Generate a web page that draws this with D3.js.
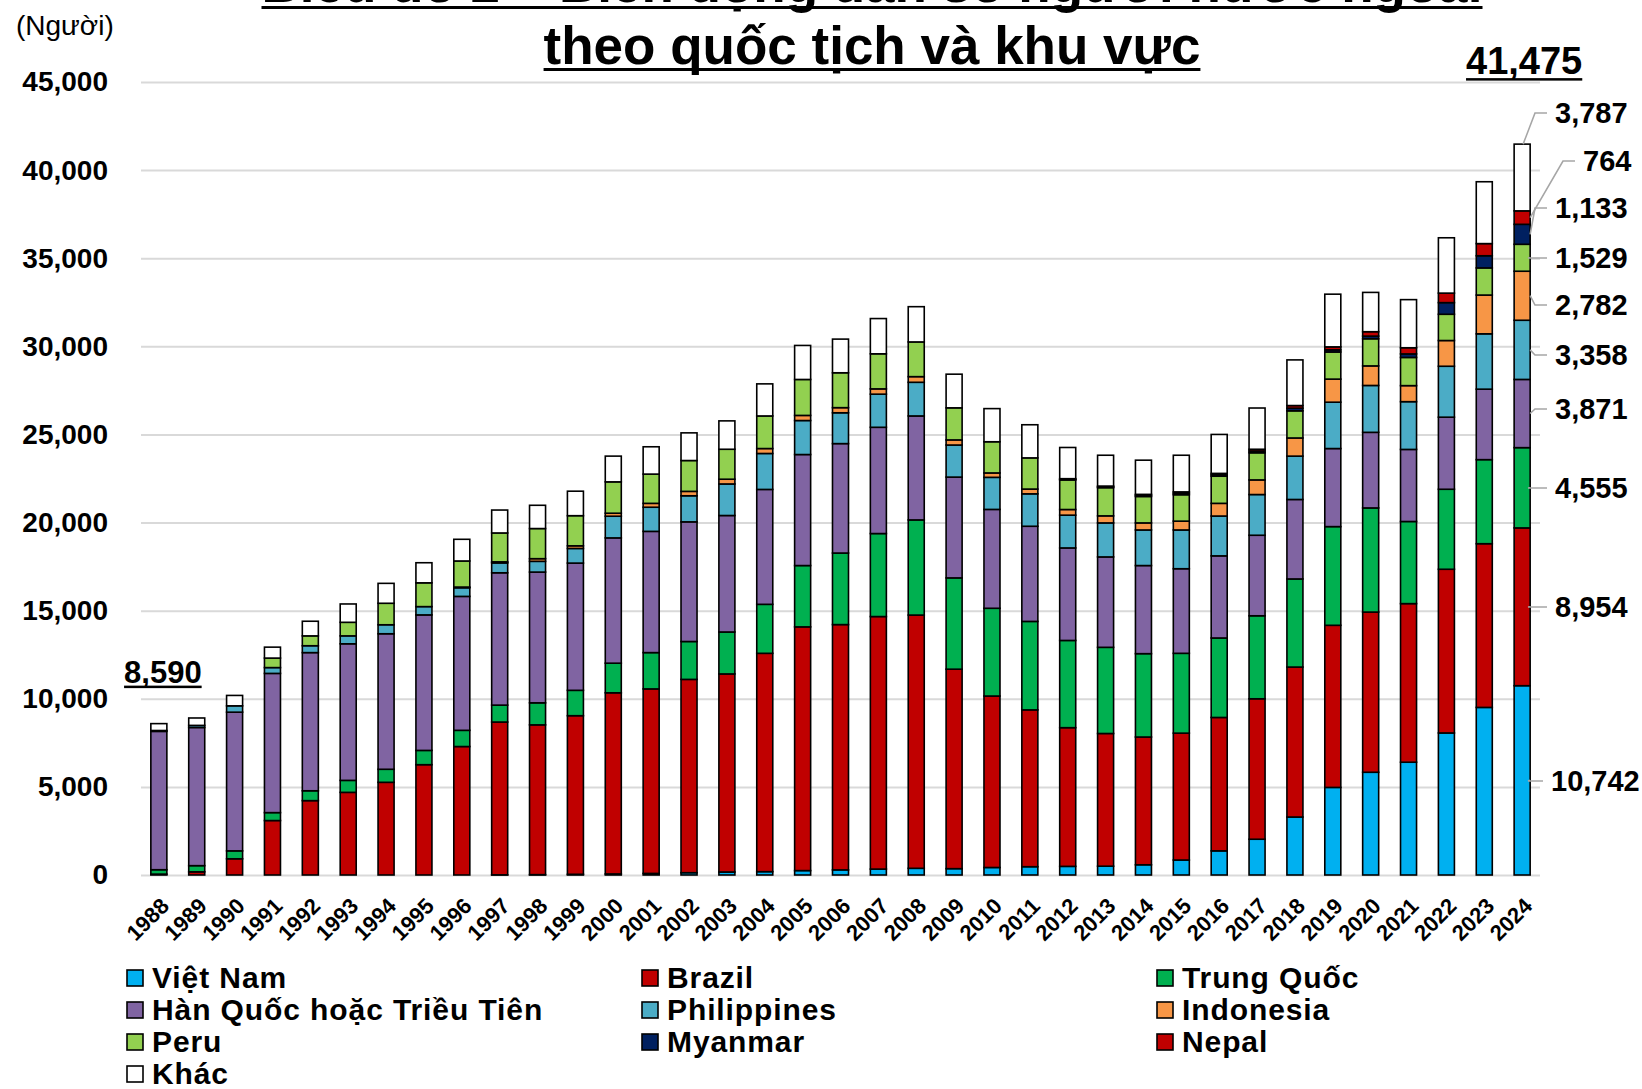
<!DOCTYPE html>
<html>
<head>
<meta charset="utf-8">
<style>
  body { margin: 0; background: #fff; }
  svg { display: block; font-family: "Liberation Sans", Arial, sans-serif; }
  .y-axis .tick line { stroke: #d9d9d9; stroke-width: 2; }
  .y-axis .domain, .x-axis .domain { display: none; }
  .y-axis .tick text { font-size: 28px; font-weight: bold; fill: #000; font-family: "Liberation Sans", Arial, sans-serif; }
  .x-axis .tick text { font-size: 22px; font-weight: bold; fill: #000; font-family: "Liberation Sans", Arial, sans-serif; }
  .legend text { font-size: 30px; font-weight: bold; letter-spacing: 0.9px; }
  .val-label { font-size: 29px; font-weight: bold; }
</style>
</head>
<body>
<svg width="1642" height="1089"></svg>
<script src="https://cdn.jsdelivr.net/npm/d3@7"></script>
<script>
// years on the x axis
const years = [1988, 1989, 1990, 1991, 1992, 1993, 1994, 1995, 1996, 1997, 1998, 1999,
  2000, 2001, 2002, 2003, 2004, 2005, 2006, 2007, 2008, 2009, 2010, 2011, 2012,
  2013, 2014, 2015, 2016, 2017, 2018, 2019, 2020, 2021, 2022, 2023, 2024];

// series, bottom to top (people)
const vietNam = [0, 0, 0, 0, 0, 0, 0, 0, 0, 10, 20, 40, 60, 90, 130, 170, 190, 250, 290, 336, 380, 360,
  426, 470, 490, 500, 580, 850, 1370, 2030, 3290, 4970, 5830, 6400, 8060, 9510, 10742];
const brazil = [50, 180, 920, 3090, 4220, 4690, 5260, 6260, 7290, 8670, 8500, 9000, 10280, 10470, 10970,
  11240, 12390, 13830, 13920, 14330, 14370, 11320, 9730, 8900, 7870, 7530, 7250, 7200, 7570, 7970,
  8510, 9200, 9090, 9000, 9290, 9290, 8954];
const trungQuoc = [250, 350, 450, 450, 560, 680, 740, 810, 920, 960, 1250, 1440, 1680, 2060, 2150, 2380,
  2780, 3480, 4060, 4710, 5400, 5180, 4980, 5020, 4950, 4890, 4730, 4530, 4510, 4710, 5000, 5600,
  5910, 4660, 4540, 4770, 4555];
const hanQuoc = [7850, 7840, 7870, 7900, 7840, 7750, 7690, 7690, 7600, 7510, 7420, 7220, 7110, 6880, 6790,
  6610, 6520, 6300, 6210, 6030, 5900, 5720, 5610, 5400, 5250, 5130, 5000, 4800, 4660, 4570, 4510,
  4430, 4290, 4090, 4090, 4000, 3871];
const philippines = [50, 120, 360, 330, 390, 450, 510, 470, 490, 560, 610, 830, 1230, 1370, 1480, 1790,
  2040, 1930, 1750, 1880, 1910, 1820, 1820, 1840, 1860, 1930, 2020, 2200, 2260, 2310, 2460, 2630,
  2660, 2710, 2890, 3140, 3358];
const indonesia = [0, 0, 0, 0, 0, 0, 0, 0, 40, 60, 150, 150, 170, 220, 250, 270, 280, 290, 290, 300, 320,
  290, 250, 270, 320, 400, 400, 500, 720, 830, 1030, 1310, 1110, 910, 1460, 2200, 2782];
const peru = [0, 0, 0, 540, 560, 770, 1220, 1350, 1480, 1640, 1710, 1710, 1780, 1660, 1750, 1700, 1850,
  2040, 1980, 1990, 1970, 1820, 1770, 1770, 1680, 1600, 1500, 1500, 1540, 1540, 1540, 1540, 1540,
  1600, 1490, 1540, 1529];
const myanmar = [0, 0, 0, 0, 0, 0, 0, 0, 0, 0, 0, 0, 0, 0, 0, 0, 0, 0, 0, 0, 0, 0, 0, 0,
  30, 40, 60, 80, 80, 100, 150, 120, 150, 200, 660, 690, 1133];
const nepal = [0, 0, 0, 0, 0, 0, 0, 0, 0, 0, 0, 0, 0, 0, 0, 0, 0, 0, 0, 0, 0, 0, 0, 0,
  40, 50, 60, 80, 80, 100, 150, 170, 250, 350, 540, 690, 764];
const khac = [390, 420, 590, 620, 830, 1040, 1130, 1140, 1230, 1300, 1320, 1390, 1460, 1550, 1570, 1610,
  1820, 1930, 1910, 2000, 2000, 1910, 1880, 1880, 1770, 1750, 1940, 2080, 2210, 2340, 2590, 2990,
  2230, 2730, 3140, 3510, 3787];

const keys = ["vn", "br", "cn", "kr", "ph", "id", "pe", "mm", "np", "kh"];
const names = ["Việt Nam", "Brazil", "Trung Quốc", "Hàn Quốc hoặc Triều Tiên", "Philippines",
  "Indonesia", "Peru", "Myanmar", "Nepal", "Khác"];
const colors = ["#00b0f0", "#c00000", "#00b050", "#8064a2", "#4bacc6", "#f79646", "#92d050",
  "#002060", "#c00000", "#ffffff"];
const seriesValues = [vietNam, brazil, trungQuoc, hanQuoc, philippines, indonesia, peru, myanmar, nepal, khac];

const yTicks = [0, 5000, 10000, 15000, 20000, 25000, 30000, 35000, 40000, 45000];

const svg = d3.select("svg");
const fmt = d3.format(",");

const table = years.map((yr, i) => {
  const row = { year: yr };
  keys.forEach((k, j) => { row[k] = seriesValues[j][i]; });
  return row;
});

const color = d3.scaleOrdinal().domain(keys).range(colors);

const plotLeft = 141, plotRight = 1540, plotTop = 82, plotBottom = 875;

const x = d3.scaleBand()
  .domain(years)
  .range([plotLeft, plotRight])
  .paddingInner(0.577)
  .paddingOuter(0.26);

const y = d3.scaleLinear()
  .domain([0, 45000])
  .range([plotBottom, plotTop]);

// y axis with gridlines
svg.append("g")
  .attr("class", "y-axis")
  .attr("transform", `translate(${plotLeft},0)`)
  .call(d3.axisLeft(y)
    .tickValues(yTicks)
    .tickSize(-(plotRight - plotLeft))
    .tickPadding(33)
    .tickFormat(fmt));

// stacked bars
const series = d3.stack().keys(keys)(table);

svg.append("g")
  .selectAll("g")
  .data(series)
  .join("g")
  .attr("fill", d => color(d.key))
  .selectAll("rect")
  .data(d => d.filter(v => v[1] - v[0] > 0))
  .join("rect")
  .attr("x", d => x(d.data.year))
  .attr("width", x.bandwidth())
  .attr("y", d => y(d[1]))
  .attr("height", d => y(d[0]) - y(d[1]))
  .attr("stroke", "#000")
  .attr("stroke-width", 1.6);

// x axis
svg.append("g")
  .attr("class", "x-axis")
  .attr("transform", `translate(0,${plotBottom})`)
  .call(d3.axisBottom(x).tickSize(0))
  .selectAll("text")
  .attr("x", 0)
  .attr("y", 0)
  .attr("dy", "0.35em")
  .attr("transform", "translate(6,27) rotate(-45)")
  .style("text-anchor", "end");

// underlined helper
function underline(sel, thick, gap) {
  const b = sel.node().getBBox();
  const base = +sel.attr("y");
  svg.append("rect")
    .attr("x", b.x)
    .attr("y", base + gap)
    .attr("width", b.width)
    .attr("height", thick)
    .attr("fill", "#000");
}

// title (first line runs off the top edge, as in the source)
const t1 = svg.append("text")
  .attr("x", 872).attr("y", 2)
  .attr("text-anchor", "middle")
  .attr("font-size", 53).attr("font-weight", "bold")
  .text("Biểu đồ 2 – Biến động dân số người nước ngoài");
underline(t1, 3, 4);

const t2 = svg.append("text")
  .attr("x", 872).attr("y", 64)
  .attr("text-anchor", "middle")
  .attr("font-size", 53).attr("font-weight", "bold")
  .text("theo quốc tịch và khu vực");
underline(t2, 3, 4);

svg.append("text")
  .attr("x", 16).attr("y", 35)
  .attr("font-size", 28)
  .text("(Người)");

// totals for first and last year
const total = i => d3.sum(seriesValues, s => s[i]);
const first = 0, last = years.length - 1;

const tFirst = svg.append("text")
  .attr("x", x(years[first]) + x.bandwidth() / 2 + 4)
  .attr("y", y(total(first)) - 41)
  .attr("text-anchor", "middle")
  .attr("font-size", 31).attr("font-weight", "bold")
  .text(fmt(total(first)));
underline(tFirst, 2.5, 3);

const tLast = svg.append("text")
  .attr("x", x(years[last]) + x.bandwidth() / 2 + 2)
  .attr("y", y(total(last)) - 70)
  .attr("text-anchor", "middle")
  .attr("font-size", 38).attr("font-weight", "bold")
  .text(fmt(total(last)));
underline(tLast, 2.5, 4);

// value labels for the last year
const labelLayout = [
  { key: "kh", ly: 113, ex: 1535, tx: 1555, from: "top" },
  { key: "np", ly: 161, ex: 1563, tx: 1583 },
  { key: "mm", ly: 208, ex: 1535, tx: 1555 },
  { key: "pe", ly: 258, ex: 1528, tx: 1555 },
  { key: "id", ly: 305, ex: 1535, tx: 1555 },
  { key: "ph", ly: 355, ex: 1535, tx: 1555 },
  { key: "kr", ly: 409, ex: 1535, tx: 1555 },
  { key: "cn", ly: 488, ex: 1528, tx: 1555 },
  { key: "br", ly: 607, ex: 1528, tx: 1555 },
  { key: "vn", ly: 781, ex: 1528, tx: 1551 }
];

const lastX = x(years[last]);
const labels = svg.append("g");
labelLayout.forEach(l => {
  const s = series.find(d => d.key === l.key)[last];
  let sx = lastX + x.bandwidth(), sy = y((s[0] + s[1]) / 2);
  if (l.from === "top") { sx = lastX + x.bandwidth() / 2 + 1; sy = y(s[1]); }
  labels.append("polyline")
    .attr("points", [[sx, sy], [l.ex, l.ly], [l.tx - 8, l.ly]].join(" "))
    .attr("fill", "none")
    .attr("stroke", "#a6a6a6")
    .attr("stroke-width", 1.6);
  labels.append("text")
    .attr("class", "val-label")
    .attr("x", l.tx)
    .attr("y", l.ly)
    .attr("dy", "0.35em")
    .text(fmt(s.data[l.key]));
});

// legend
const colX = [127, 642, 1157];
const rowY = [988, 1020, 1052, 1084];
const legend = svg.append("g").attr("class", "legend");
keys.forEach((k, i) => {
  const cx = colX[i % 3], cy = rowY[Math.floor(i / 3)];
  legend.append("rect")
    .attr("x", cx).attr("y", cy - 18)
    .attr("width", 16).attr("height", 16)
    .attr("fill", color(k))
    .attr("stroke", "#000").attr("stroke-width", 1.6);
  legend.append("text")
    .attr("x", cx + 25).attr("y", cy)
    .text(names[i]);
});
</script>
</body>
</html>
